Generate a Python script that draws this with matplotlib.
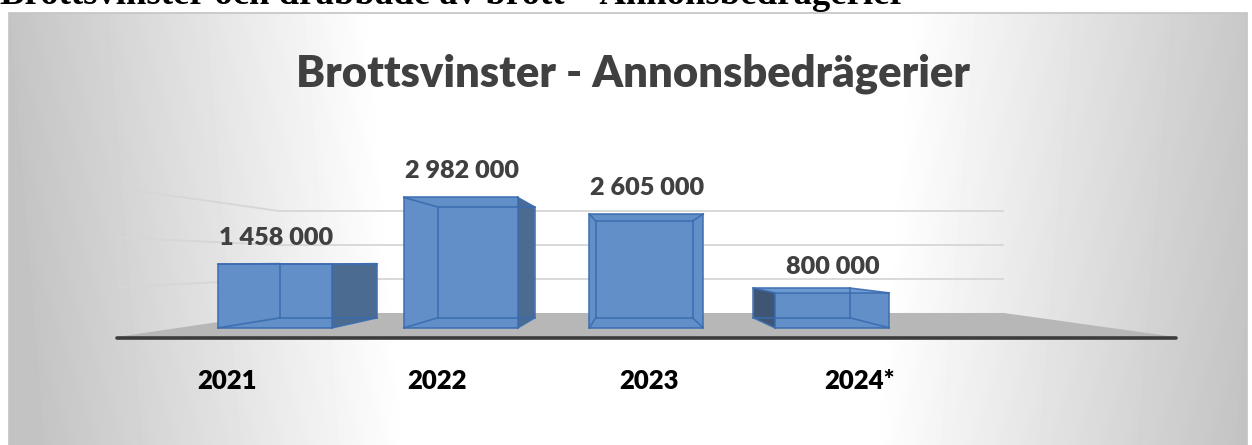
import numpy as np
import matplotlib
matplotlib.use("Agg")
import matplotlib.pyplot as plt
from matplotlib.patches import Polygon, Rectangle

# ---------------- data ----------------
header = "Brottsvinster och drabbade av brott – Annonsbedrägerier"
title = "Brottsvinster - Annonsbedrägerier"
categories = ["2021", "2022", "2023", "2024*"]
values = [1458000, 2982000, 2605000, 800000]
value_labels = ["1 458 000", "2 982 000", "2 605 000", "800 000"]
gridlines = [1000000, 2000000, 3000000]

SANS = "Lato"
WEIGHT = 800

# ---------------- figure ----------------
W, H = 1252, 445
fig = plt.figure(figsize=(W / 100, H / 100), dpi=100)
ax = fig.add_axes([0, 0, 1, 1])
ax.axis("off")

# perspective set-up (one-point perspective, pixels of the full-figure axes)
VX, VY = 631.0, 261.0          # vanishing point
X0, DX = 226.5, 211.0          # front plane: x of category 0, px per category
Y0, DY = 337.0, 49.7e-6        # front plane: y of value 0, px per unit value
Z_BAR_FRONT, Z_BAR_BACK, Z_WALL = 0.136, 0.337, 0.462
HALF = 0.307                   # half bar width (category units)
FLOOR_L, FLOOR_R = -0.52, 4.5


def proj(c, v, z):
    xw = X0 + c * DX
    yw = Y0 - v * DY
    s = 1.0 / (1.0 + z)
    return VX + (xw - VX) * s, VY + (yw - VY) * s


# ---------------- background panel ----------------
px0, px1, py0, py1 = 9, 1247, 13, 446
xs = np.arange(px0, px1) + 0.5
ys = np.arange(py0, py1) + 0.5
XX, YY = np.meshgrid(xs, ys)
d = np.abs(XX - 640) + 0.08 * (YY - 230)
t = np.clip((d - 250) / 370, 0, 1)
img = 1 - (60 / 255) * t
ax.imshow(img, cmap="gray", vmin=0, vmax=1, extent=(px0, px1, py1, py0),
          aspect="auto", zorder=0, interpolation="bilinear")
ax.add_patch(Rectangle((px0, py0), px1 - px0, py1 - py0, fill=False,
                       edgecolor="#c4c4c4", lw=1.2, zorder=1))

ax.set_xlim(0, W)
ax.set_ylim(H, 0)

# ---------------- walls gridlines ----------------
for g in gridlines:
    bl = proj(FLOOR_L, g, Z_WALL)
    br = proj(FLOOR_R, g, Z_WALL)
    fl = proj(FLOOR_L, g, 0)
    ax.plot([fl[0], bl[0], br[0]], [fl[1], bl[1], br[1]], color="#d6d6d6",
            lw=1.3, zorder=2, solid_capstyle="butt")

# ---------------- floor ----------------
floor = [proj(FLOOR_L, 0, 0), proj(FLOOR_R, 0, 0),
         proj(FLOOR_R, 0, Z_WALL), proj(FLOOR_L, 0, Z_WALL)]
ax.add_patch(Polygon(floor, closed=True, facecolor="#b7b7b7",
                     edgecolor="none", zorder=3))
fa, fb = proj(FLOOR_L, 0, 0), proj(FLOOR_R, 0, 0)
ax.plot([fa[0], fb[0]], [fa[1] + 1, fb[1] + 1], color="#3c3c3c", lw=2.6,
        solid_capstyle="round", zorder=4)

# ---------------- 3D bars ----------------
FRONT, RIGHT, LEFT, TOP = "#628fc7", "#4c6b91", "#3e5573", "#6d9ad0"
EDGE = "#3a6cb0"
for i, val in enumerate(values):
    l, r = i - HALF, i + HALF
    zf, zb = Z_BAR_FRONT, Z_BAR_BACK
    P = {}
    for cc, cn in ((l, "l"), (r, "r")):
        for vv, vn in ((0, "b"), (val, "t")):
            for zz, zn in ((zf, "f"), (zb, "k")):
                P[cn + vn + zn] = proj(cc, vv, zz)
    faces = []
    if X0 + r * DX < VX:
        faces.append(([P["rbf"], P["rbk"], P["rtk"], P["rtf"]], RIGHT))
    if X0 + l * DX > VX:
        faces.append(([P["lbf"], P["lbk"], P["ltk"], P["ltf"]], LEFT))
    if Y0 - val * DY > VY:
        faces.append(([P["ltf"], P["rtf"], P["rtk"], P["ltk"]], TOP))
    faces.append(([P["lbf"], P["rbf"], P["rtf"], P["ltf"]], FRONT))
    for pts, col in faces:
        ax.add_patch(Polygon(pts, closed=True, facecolor=col,
                             edgecolor="none", zorder=5))
    edges = [("lbf", "rbf"), ("rbf", "rtf"), ("rtf", "ltf"), ("ltf", "lbf"),
             ("lbk", "rbk"), ("rbk", "rtk"), ("rtk", "ltk"), ("ltk", "lbk"),
             ("lbf", "lbk"), ("rbf", "rbk"), ("rtf", "rtk"), ("ltf", "ltk")]
    for a, b in edges:
        ax.plot([P[a][0], P[b][0]], [P[a][1], P[b][1]], color=EDGE, lw=1.2,
                alpha=0.9, zorder=6, solid_capstyle="round")

# ---------------- texts ----------------
renderer = fig.canvas.get_renderer()


def fit(txt, target_w):
    bb = txt.get_window_extent(renderer)
    txt.set_fontsize(txt.get_fontsize() * target_w / bb.width)
    return txt.get_fontsize()


h = ax.text(0, 4, header, family="Liberation Serif", fontweight="bold",
            fontsize=20, color="black", ha="left", va="baseline", zorder=10)
fit(h, 905)

t = ax.text(633.5, 86, title, family=SANS, fontweight=WEIGHT,
            fontsize=30, color="#404040", ha="center", va="baseline", zorder=10)
fit(t, 673)

# value labels
probe = ax.text(0, 0, value_labels[0], family=SANS, fontweight=WEIGHT,
                fontsize=16)
fs_val = fit(probe, 115)
probe.remove()
for i, (val, lab) in enumerate(zip(values, value_labels)):
    x, y = proj(i, val, Z_BAR_FRONT)
    ax.text(x + 1, y - 19, lab, family=SANS, fontweight=WEIGHT,
            fontsize=fs_val, color="#404040", ha="center", va="baseline",
            zorder=10)

# category labels
probe = ax.text(0, 0, categories[0], family=SANS, fontweight=WEIGHT,
                fontsize=16)
fs_cat = fit(probe, 60)
probe.remove()
for i, cat in enumerate(categories):
    x, _ = proj(i, 0, 0)
    ax.text(x, 389, cat, family=SANS, fontweight=WEIGHT,
            fontsize=fs_cat, color="black", ha="center", va="baseline",
            zorder=10)

fig.savefig("out.png", dpi=100)
